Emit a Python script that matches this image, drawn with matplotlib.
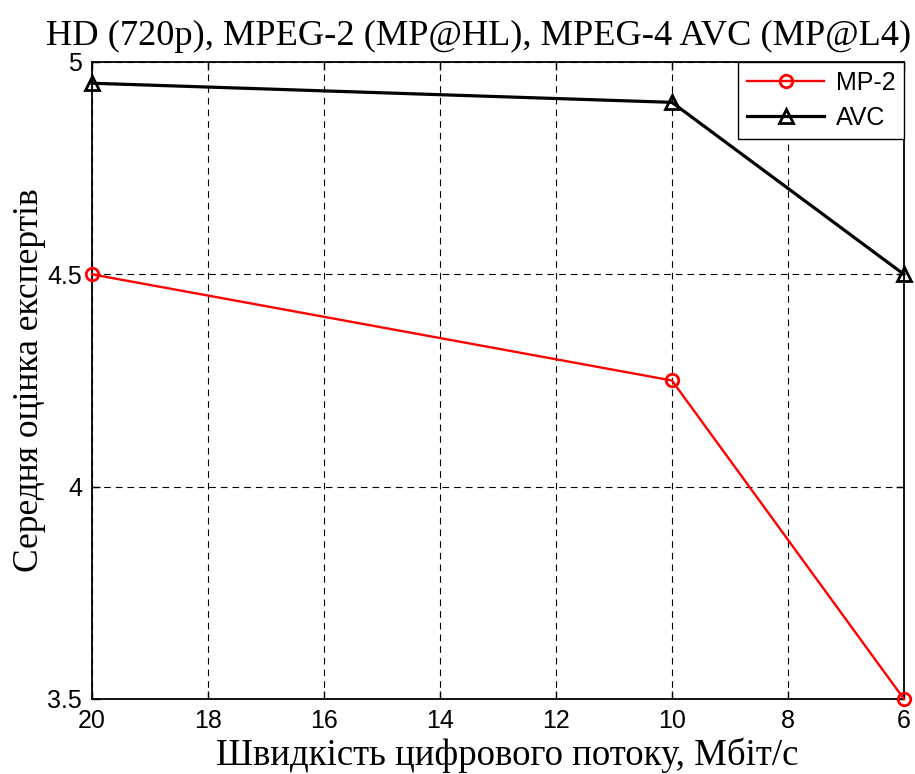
import matplotlib
matplotlib.use("Agg")
import matplotlib.pyplot as plt

bitrate = [20, 10, 6]
mp2 = [4.50, 4.25, 3.50]
avc = [4.95, 4.905, 4.50]
xticks = [20, 18, 16, 14, 12, 10, 8, 6]
yticks = [3.5, 4, 4.5, 5]
ytick_labels = ["3.5", "4", "4.5", "5"]

sans = "Liberation Sans"
serif = "Liberation Serif"

fig = plt.figure(figsize=(9.15, 7.74), dpi=100)
ax = fig.add_axes([0.1005, 0.0969, 0.8874, 0.823])

ax.plot(bitrate, mp2, color="red", lw=1.7, marker="o", ms=9, mfc="none", mec="red", mew=2,
        label="MP-2", clip_on=False, zorder=3)
ax.plot(bitrate, avc, color="black", lw=2.3, marker="^", ms=10, mfc="none", mec="black", mew=2,
        label="AVC", clip_on=False, zorder=3)

ax.set_xlim(20, 6)
ax.set_ylim(3.5, 5)
ax.set_xticks(xticks)
ax.set_xticklabels([str(v) for v in xticks], fontfamily=sans, fontsize=18)
ax.set_yticks(yticks)
ax.set_yticklabels(ytick_labels, fontfamily=sans, fontsize=18)
ax.tick_params(direction="in", length=6, top=True, right=True, width=1)
ax.tick_params(axis="y", pad=7)
ax.tick_params(axis="x", pad=7)
ax.grid(True, color="black", linestyle=(0, (6, 4.5)), linewidth=0.8)
for s in ax.spines.values():
    s.set_linewidth(1.3)

ax.set_title("HD (720p), MPEG-2 (MP@HL), MPEG-4 AVC (MP@L4)", fontfamily=serif, fontsize=26.2, pad=12, x=0.4766)
ax.set_xlabel("Швидкість цифрового потоку, Мбіт/с", fontfamily=serif, fontsize=26.5)
ax.xaxis.set_label_coords(0.511, -0.1036)
ax.xaxis.label.set_va("baseline")
ax.set_ylabel("Середня оцінка експертів", fontfamily=serif, fontsize=25.5, labelpad=1)

leg = ax.legend(loc="upper right", prop={"family": sans, "size": 18}, fancybox=False,
                edgecolor="black", framealpha=1, borderaxespad=0, handlelength=3.1,
                borderpad=0.35, labelspacing=0.45, handletextpad=0.45)
leg.get_frame().set_linewidth(1.0)

fig.savefig("out.png", dpi=100)
